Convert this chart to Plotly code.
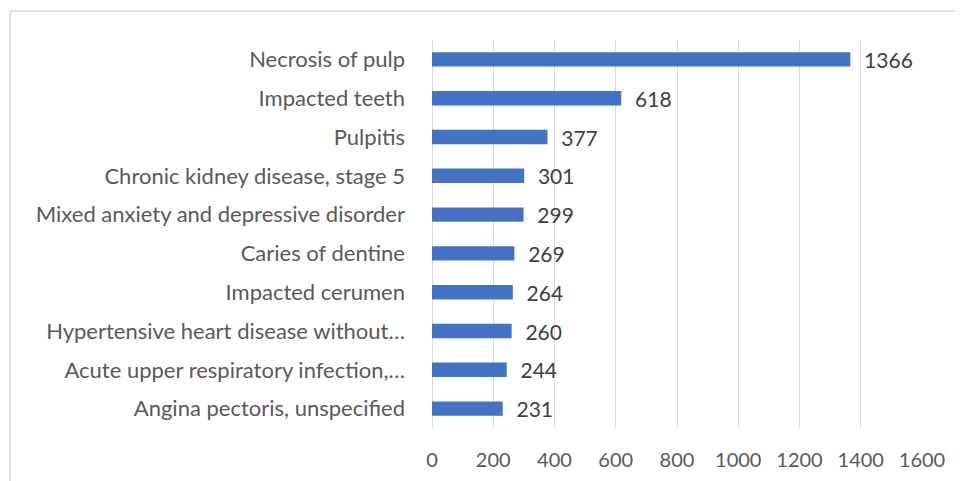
import plotly.graph_objects as go

categories = [
    "Necrosis of pulp",
    "Impacted teeth",
    "Pulpitis",
    "Chronic kidney disease, stage 5",
    "Mixed anxiety and depressive disorder",
    "Caries of dentine",
    "Impacted cerumen",
    "Hypertensive heart disease without…",
    "Acute upper respiratory infection,…",
    "Angina pectoris, unspecified",
]
values = [1366, 618, 377, 301, 299, 269, 264, 260, 244, 231]
x_ticks = [0, 200, 400, 600, 800, 1000, 1200, 1400, 1600]

FONT = "Lato"
TXT = "#404040"
AXTXT = "#595959"
GRID = "#d9d9d9"

fig = go.Figure(go.Bar(
    y=categories,
    x=values,
    orientation="h",
    marker=dict(color="#4472C4", line=dict(width=0)),
    width=0.37,
    text=values,
    texttemplate="\u00a0\u00a0%{x}",
    textposition="outside",
    constraintext="none",
    textfont=dict(family=FONT, size=21, color=TXT),
    cliponaxis=False,
))

# page has an 8px body margin, so figure coords = page coords - 8
W, H = 963, 481
L, R, T, B = 424, 49, 32, 61
pw, ph = W - L - R, H - T - B

fig.update_layout(
    width=W, height=H,
    margin=dict(l=L, r=R, t=T, b=B, autoexpand=False),
    paper_bgcolor="white",
    plot_bgcolor="white",
    showlegend=False,
    font=dict(family=FONT, size=20, color=AXTXT),
    xaxis=dict(
        range=[0, 1600],
        tickvals=x_ticks,
        ticktext=[str(v) for v in x_ticks],
        showgrid=True, gridcolor=GRID, gridwidth=1,
        zeroline=True, zerolinecolor=GRID, zerolinewidth=1,
        showline=False,
        ticks="",
        automargin=False,
        ticklabelstandoff=18,
        tickfont=dict(family=FONT, size=20, color=AXTXT),
        fixedrange=True,
    ),
    yaxis=dict(
        categoryorder="array",
        categoryarray=categories[::-1],
        showgrid=False,
        zeroline=False,
        showline=False,
        ticks="",
        automargin=False,
        ticklabelstandoff=26,
        tickfont=dict(family=FONT, size=22, color=AXTXT),
        fixedrange=True,
    ),
    shapes=[dict(
        type="rect", xref="paper", yref="paper",
        x0=(2 - L) / pw, x1=(990 - L) / pw,
        y0=-(H + 20 - T - ph) / ph, y1=1 + (T - 3) / ph,
        line=dict(color=GRID, width=1.5),
        fillcolor="rgba(0,0,0,0)",
        layer="below",
    )],
)

fig.write_html("out.html")
